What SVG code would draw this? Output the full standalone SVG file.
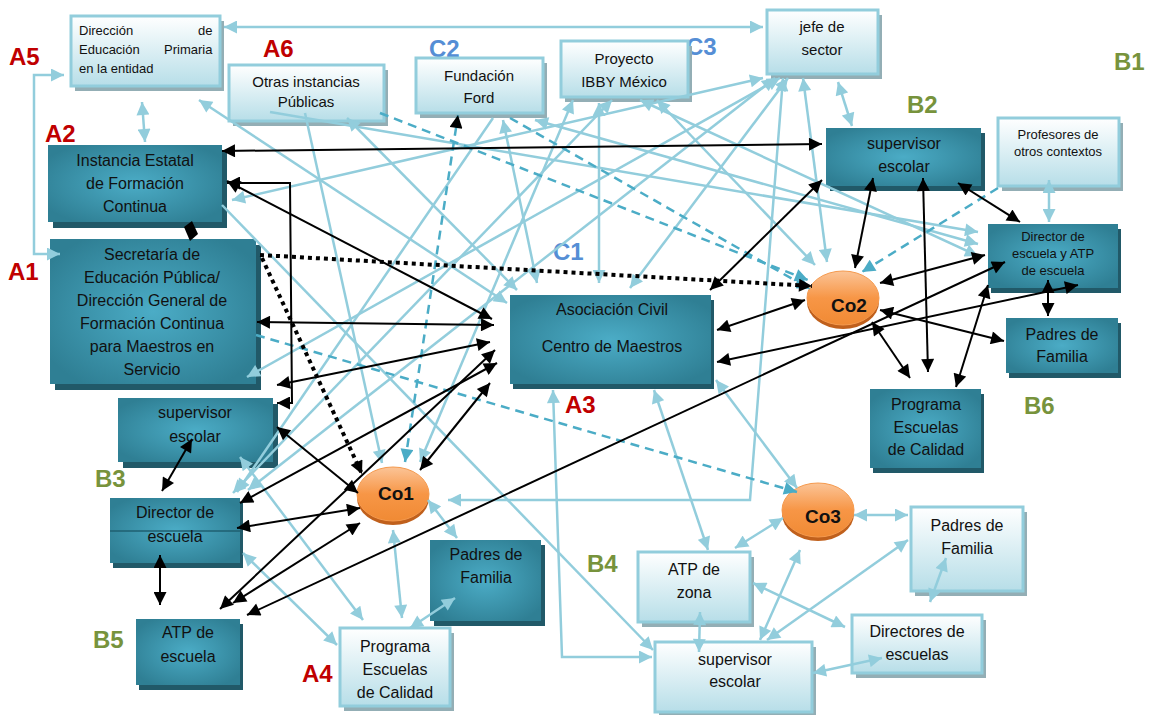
<svg xmlns="http://www.w3.org/2000/svg" width="1152" height="715" viewBox="0 0 1152 715">
<defs>
<style>
.lb{fill:url(#gl);stroke:#92CDDC;stroke-width:3}
.ls{fill:#93AEB5}
.db{fill:url(#gd)}
.ds{fill:#215968}
.t{font-family:"Liberation Sans",Arial,sans-serif;font-size:16px;fill:#111;text-anchor:middle}
.ts{font-size:15px}
.tx{font-size:13px}
.co{font-family:"Liberation Sans",Arial,sans-serif;font-size:19px;font-weight:bold;fill:#111;text-anchor:middle}
.lab{font-family:"Liberation Sans",Arial,sans-serif;font-weight:bold;font-size:24px}
.red{fill:#C00000}.blu{fill:#558ED5}.grn{fill:#77933C}
.c{fill:none;stroke:#92CDDC;stroke-width:2.5}
.c1{marker-end:url(#la)}
.c2{marker-start:url(#la);marker-end:url(#la)}
.k{fill:none;stroke:#000;stroke-width:2}
.k2{marker-start:url(#ka);marker-end:url(#ka)}
.dsh{fill:none;stroke:#4BACC6;stroke-width:2.5;stroke-dasharray:9 6;marker-end:url(#ta)}
.dot{fill:none;stroke:#000;stroke-width:4;stroke-dasharray:4 4;marker-end:url(#ka)}
</style>
<linearGradient id="gl" x1="0" y1="0" x2="0" y2="1"><stop offset="0" stop-color="#FFFFFF"/><stop offset="1" stop-color="#B7DEE8"/></linearGradient>
<radialGradient id="gd" cx="0.5" cy="0.5" r="0.6"><stop offset="0" stop-color="#4BACC6"/><stop offset="1" stop-color="#2F7F94"/></radialGradient>
<linearGradient id="go" x1="0" y1="0" x2="0" y2="1"><stop offset="0" stop-color="#FBC497"/><stop offset="0.5" stop-color="#F79646"/><stop offset="1" stop-color="#F08A34"/></linearGradient>
<marker id="la" viewBox="0 0 10 10" refX="10" refY="5" markerWidth="15" markerHeight="13" markerUnits="userSpaceOnUse" orient="auto-start-reverse"><path d="M0,0 L10,5 L0,10 z" fill="#92CDDC"/></marker>
<marker id="ka" viewBox="0 0 10 10" refX="10" refY="5" markerWidth="15" markerHeight="13" markerUnits="userSpaceOnUse" orient="auto-start-reverse"><path d="M0,0 L10,5 L0,10 z" fill="#000"/></marker>
<marker id="ta" viewBox="0 0 10 10" refX="10" refY="5" markerWidth="15" markerHeight="13" markerUnits="userSpaceOnUse" orient="auto-start-reverse"><path d="M0,0 L10,5 L0,10 z" fill="#4BACC6"/></marker>
</defs>
<rect width="1152" height="715" fill="#fff"/>

<g id="labels">
<text class="lab red" x="9" y="65">A5</text>
<text class="lab red" x="263" y="57">A6</text>
<text class="lab red" x="45" y="142">A2</text>
<text class="lab red" x="8" y="280">A1</text>
<text class="lab red" x="565" y="413">A3</text>
<text class="lab red" x="302" y="682">A4</text>
<text class="lab blu" x="429" y="57">C2</text>
<text class="lab blu" x="686" y="55">C3</text>
<text class="lab blu" x="553" y="260">C1</text>
<text class="lab grn" x="1114" y="70">B1</text>
<text class="lab grn" x="907" y="113">B2</text>
<text class="lab grn" x="95" y="487">B3</text>
<text class="lab grn" x="587" y="572">B4</text>
<text class="lab grn" x="93" y="648">B5</text>
<text class="lab grn" x="1024" y="414">B6</text>
</g>

<g id="n-diredu"><rect class="ls" x="75" y="21" width="149" height="70"/><rect class="lb" x="71" y="16" width="149" height="70"/>
<text class="t tx" style="text-anchor:start"><tspan x="79" y="35">Dirección</tspan><tspan x="198" y="35">de</tspan><tspan x="79" y="54">Educación</tspan><tspan x="164" y="54">Primaria</tspan><tspan x="79" y="73">en la entidad</tspan></text></g>
<g id="n-otras"><rect class="ls" x="233" y="70" width="155" height="56"/><rect class="lb" x="229" y="65" width="155" height="56"/>
<text class="t ts" x="306" y="87">Otras instancias</text><text class="t ts" x="306" y="107">Públicas</text></g>
<g id="n-ford"><rect class="ls" x="420" y="63" width="127" height="55"/><rect class="lb" x="416" y="58" width="127" height="55"/>
<text class="t ts" x="479" y="81">Fundación</text><text class="t ts" x="479" y="103">Ford</text></g>
<g id="n-ibby"><rect class="ls" x="565" y="46" width="127" height="56"/><rect class="lb" x="561" y="41" width="127" height="56"/>
<text class="t ts" x="624" y="64">Proyecto</text><text class="t ts" x="624" y="87">IBBY México</text></g>
<g id="n-jefe"><rect class="ls" x="771" y="15" width="111" height="64"/><rect class="lb" x="767" y="10" width="111" height="64"/>
<text class="t ts" x="822" y="32">jefe de</text><text class="t ts" x="822" y="55">sector</text></g>
<g id="n-prof"><rect class="ls" x="1002" y="123" width="121" height="68"/><rect class="lb" x="998" y="118" width="121" height="68"/>
<text class="t tx" x="1058" y="139">Profesores de</text><text class="t tx" x="1058" y="156">otros contextos</text></g>

<g id="n-instancia"><rect class="ds" x="53" y="151" width="174" height="77"/><rect class="db" x="48" y="145" width="174" height="77"/>
<text class="t" x="135" y="166">Instancia Estatal</text><text class="t" x="135" y="189">de Formación</text><text class="t" x="135" y="212">Continua</text></g>
<g id="n-sep"><rect class="ds" x="55" y="245" width="206" height="145"/><rect class="db" x="50" y="239" width="206" height="145"/>
<text class="t" x="152" y="260">Secretaría de</text><text class="t" x="152" y="283">Educación Pública/</text><text class="t" x="152" y="306">Dirección General de</text><text class="t" x="152" y="329">Formación Continua</text><text class="t" x="152" y="352">para Maestros en</text><text class="t" x="152" y="375">Servicio</text></g>
<g id="n-sup-left"><rect class="ds" x="123" y="404" width="155" height="64"/><rect class="db" x="118" y="398" width="155" height="64"/>
<text class="t" x="195" y="418">supervisor</text><text class="t" x="195" y="442">escolar</text></g>
<g id="n-dir-left"><rect class="ds" x="113" y="503" width="130" height="65"/><rect class="db" x="110" y="498" width="130" height="65"/><line x1="110" y1="531" x2="240" y2="531" stroke="#1F5F70" stroke-width="1.5"/>
<text class="t" x="175" y="518">Director de</text><text class="t" x="175" y="542">escuela</text></g>
<g id="n-atp-esc"><rect class="ds" x="139" y="624" width="104" height="66"/><rect class="db" x="136" y="619" width="104" height="66"/>
<text class="t" x="188" y="638">ATP de</text><text class="t" x="188" y="662">escuela</text></g>
<g id="n-padres-mid"><rect class="ds" x="434" y="545" width="111" height="81"/><rect class="db" x="430" y="540" width="111" height="81"/>
<text class="t" x="486" y="560">Padres de</text><text class="t" x="486" y="583">Familia</text></g>
<g id="n-pec-left"><rect class="ls" x="344" y="633" width="110" height="78"/><rect class="lb" x="340" y="628" width="110" height="78"/>
<text class="t" x="395" y="652">Programa</text><text class="t" x="395" y="675">Escuelas</text><text class="t" x="395" y="698">de Calidad</text></g>
<g id="n-asoc"><rect class="ds" x="513" y="300" width="201" height="89"/><rect class="db" x="510" y="295" width="201" height="89"/>
<text class="t" x="612" y="315">Asociación Civil</text><text class="t" x="612" y="352">Centro de Maestros</text></g>
<g id="n-atp-zona"><rect class="ls" x="642" y="557" width="112" height="70"/><rect class="lb" x="638" y="552" width="112" height="70"/>
<text class="t" x="694" y="575">ATP de</text><text class="t" x="694" y="598">zona</text></g>
<g id="n-sup-bottom"><rect class="ls" x="659" y="647" width="157" height="70"/><rect class="lb" x="655" y="642" width="157" height="70"/>
<text class="t" x="735" y="665">supervisor</text><text class="t" x="735" y="687">escolar</text></g>
<g id="n-padres-br"><rect class="ls" x="915" y="512" width="112" height="84"/><rect class="lb" x="911" y="507" width="112" height="84"/>
<text class="t" x="967" y="531">Padres de</text><text class="t" x="967" y="554">Familia</text></g>
<g id="n-directores"><rect class="ls" x="856" y="620" width="130" height="58"/><rect class="lb" x="852" y="615" width="130" height="58"/>
<text class="t" x="917" y="637">Directores de</text><text class="t" x="917" y="660">escuelas</text></g>
<g id="n-sup-b2"><rect class="ds" x="830" y="133" width="155" height="58"/><rect class="db" x="826" y="128" width="155" height="58"/>
<text class="t" x="904" y="149">supervisor</text><text class="t" x="904" y="172">escolar</text></g>
<g id="n-dir-atp"><rect class="ds" x="991" y="229" width="130" height="64"/><rect class="db" x="988" y="224" width="130" height="64"/>
<text class="t tx" x="1053" y="241">Director de</text><text class="t tx" x="1053" y="258">escuela y ATP</text><text class="t tx" x="1053" y="275">de escuela</text></g>
<g id="n-padres-right"><rect class="ds" x="1009" y="323" width="112" height="55"/><rect class="db" x="1006" y="318" width="112" height="55"/>
<text class="t" x="1062" y="340">Padres de</text><text class="t" x="1062" y="362">Familia</text></g>
<g id="n-pec-right"><rect class="ds" x="873" y="394" width="111" height="79"/><rect class="db" x="870" y="389" width="111" height="79"/>
<text class="t" x="926" y="410">Programa</text><text class="t" x="926" y="433">Escuelas</text><text class="t" x="926" y="455">de Calidad</text></g>

<g id="n-co1"><ellipse cx="393" cy="498" rx="36" ry="27" fill="#C0601C"/><ellipse cx="393" cy="494" rx="36" ry="27" fill="url(#go)" stroke="#F59A4E" stroke-width="1"/><text class="co" x="396" y="500">Co1</text></g>
<g id="n-co2"><ellipse cx="843" cy="302" rx="36" ry="27" fill="#C0601C"/><ellipse cx="843" cy="298" rx="36" ry="27" fill="url(#go)" stroke="#F59A4E" stroke-width="1"/><text class="co" x="849" y="312">Co2</text></g>
<g id="n-co3"><ellipse cx="818" cy="514" rx="36" ry="27" fill="#C0601C"/><ellipse cx="818" cy="510" rx="36" ry="27" fill="url(#go)" stroke="#F59A4E" stroke-width="1"/><text class="co" x="823" y="523">Co3</text></g>

<g id="connectors">
<path class="c c2" d="M224,27 L763,27"/>
<path class="c c2" d="M60,254 L34,254 L34,75 L64,75"/>
<path class="c c2" d="M142,102 L145,142"/>
<path class="c c2" d="M199,100 L507,303"/>
<path class="c c2" d="M232,200 L763,78"/>
<path class="c c1" d="M222,205 L653,650"/>
<path class="c c1" d="M270,112 L978,232"/>
<path class="c c1" d="M305,113 L382,463"/>
<path class="c c2" d="M347,118 L517,290"/>
<path class="c c2" d="M503,120 L537,283"/>
<path class="c c2" d="M535,120 L978,244"/>
<path class="c c1" d="M493,118 L237,492"/>
<path class="c c2" d="M640,100 L978,256"/>
<path class="c c2" d="M573,100 L420,462"/>
<path class="c c2" d="M599,103 L599,283"/>
<path class="c c2" d="M657,100 L815,265"/>
<path class="c c2" d="M612,100 L233,493"/>
<path class="c c2" d="M775,78 L248,490"/>
<path class="c c2" d="M247,377 L780,78"/>
<path class="c c2" d="M783,78 L750,500 L448,500"/>
<path class="c c2" d="M803,78 L827,262"/>
<path class="c c2" d="M788,78 L630,288"/>
<path class="c c2" d="M838,82 L852,126"/>
<path class="c c2" d="M1049,180 L1049,222"/>
<path class="c c2" d="M553,390 L562,657 L652,657"/>
<path class="c c2" d="M654,390 L708,550"/>
<path class="c c2" d="M716,380 L797,488"/>
<path class="c c2" d="M428,500 L457,538"/>
<path class="c c2" d="M393,530 L402,618"/>
<path class="c c2" d="M410,628 L455,598"/>
<path class="c c2" d="M243,553 L337,645"/>
<path class="c c2" d="M240,457 L363,620"/>
<path class="c c2" d="M735,548 L783,518"/>
<path class="c c2" d="M753,583 L845,627"/>
<path class="c c2" d="M760,640 L800,550"/>
<path class="c c2" d="M767,640 L908,540"/>
<path class="c c2" d="M854,515 L908,515"/>
<path class="c c2" d="M930,602 L946,558"/>
<path class="c c2" d="M813,673 L882,658"/>
<path class="c c2" d="M700,612 L699,652"/>

<path class="dsh" d="M405,462 L458,115" style="marker-start:url(#ta);marker-end:url(#ka)"/>
<path class="dsh" d="M380,113 L808,280"/>
<path class="dsh" d="M510,118 L810,289"/>
<path class="dsh" d="M998,188 L862,272"/>
<path class="dsh" d="M256,335 L797,492"/>

<path class="dot" d="M260,255 L812,286"/>
<path class="dot" d="M262,258 L362,474"/>

<path class="k k2" d="M222,151 L822,144"/>
<path class="k k2" d="M227,183 L290,183 L292,403 L277,403"/>
<path class="k k2" d="M227,181 L492,319"/>
<path class="k k2" d="M257,322 L494,325"/>
<path class="k k2" d="M277,385 L490,342"/>
<path class="k k2" d="M277,427 L358,493"/>
<path class="k k2" d="M240,503 L497,363"/>
<path class="k k2" d="M237,528 L360,508"/>
<path class="k k2" d="M160,555 L160,605"/>
<path class="k k2" d="M192,439 L162,491"/>
<path class="k k2" d="M220,609 L495,350"/>
<path class="k k2" d="M233,603 L360,523"/>
<path class="k k2" d="M247,615 L1005,262"/>
<path class="k k2" d="M420,470 L490,383"/>
<path class="k k2" d="M717,330 L805,300"/>
<path class="k k2" d="M717,362 L1078,285"/>
<path class="k k2" d="M710,290 L822,180"/>
<path class="k k2" d="M855,268 L873,178"/>
<path class="k k2" d="M923,178 L928,372"/>
<path class="k k2" d="M958,183 L1020,222"/>
<path class="k k2" d="M880,283 L985,255"/>
<path class="k k2" d="M880,310 L1004,341"/>
<path class="k k2" d="M872,322 L910,378"/>
<path class="k k2" d="M1048,280 L1048,316"/>
<path class="k k2" d="M988,285 L956,387"/>
<path d="M184,227 L192,221 L198,234 L190,241 Z" fill="#000"/>
</g>
</svg>
